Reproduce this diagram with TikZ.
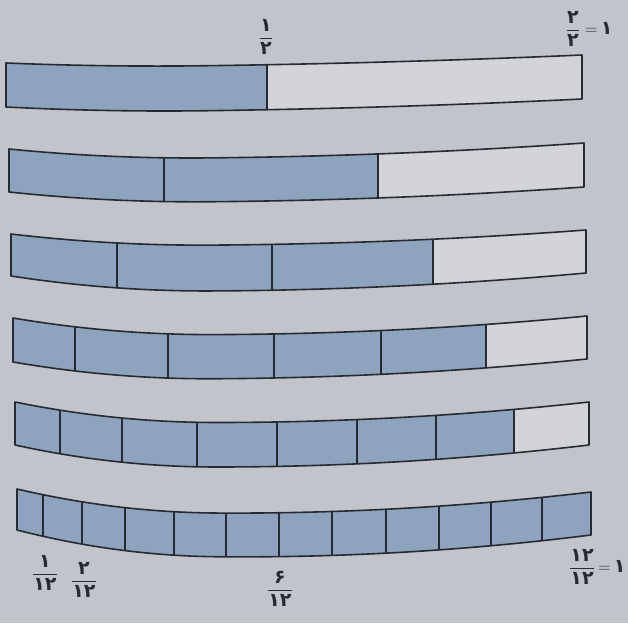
\documentclass[tikz,border=0pt]{standalone}
\usepackage{amsmath}
\usepackage{fontspec}
\newfontfamily\fa[Script=Arabic]{DejaVu Sans}
\definecolor{paper}{RGB}{194,196,204}
\definecolor{bluefill}{RGB}{142,163,190}
\definecolor{cellwhite}{RGB}{210,212,218}
\definecolor{inkline}{RGB}{40,42,50}
\tikzset{
  barline/.style={draw=inkline, line width=1.6pt, line join=round},
  divline/.style={draw=inkline, line width=1.4pt},
  lab/.style={text=inkline, inner sep=0pt, font=\fontsize{19pt}{19pt}\selectfont},
}
% #1 xL, #2 xR, #3 top-left y, #4 top-right y, #5 top sag, #6 bottom-left y, #7 bottom-right y, #8 bottom sag, #9 cells
\newcommand\mybar[9]{%
\begin{scope}[declare function={
   tt(\x)=(\x-#1)/(#2-#1);
   sh(\t)=1-((\t-0.35)/((\t<0.35)?0.35:0.65))*((\t-0.35)/((\t<0.35)?0.35:0.65));
   topy(\x)=#3+(#4-#3)*tt(\x)+#5*sh(tt(\x));
   boty(\x)=#6+(#7-#6)*tt(\x)+#8*sh(tt(\x));}]
  \foreach \ua/\ub/\uc in {#9}{
    \fill[\uc] plot[domain=\ua:\ub,samples=14] (\x,{topy(\x)}) -- plot[domain=\ub:\ua,samples=14] (\x,{boty(\x)}) -- cycle;
  }
  \foreach \ua/\ub/\uc in {#9}{
    \draw[divline] (\ub,{topy(\ub)}) -- (\ub,{boty(\ub)});
  }
  \draw[barline] plot[domain=#1:#2,samples=50] (\x,{topy(\x)}) -- plot[domain=#2:#1,samples=50] (\x,{boty(\x)}) -- cycle;
\end{scope}}
\newcommand\pfrac[2]{$\genfrac{}{}{1pt}{0}{\mbox{\fa\bfseries #1}}{\mbox{\fa\bfseries #2}}$}
\begin{document}
\begin{tikzpicture}[x=1pt,y=-1pt]
\fill[paper] (0,0) rectangle (628,623);
\useasboundingbox (0,0) rectangle (628,623);

\mybar{6}{582}{63}{55}{5.5}{107}{99}{6.5}{6/267/bluefill, 267/582/cellwhite}
\mybar{9}{584}{149}{143}{11}{192}{187}{11.5}{9/164/bluefill, 164/378/bluefill, 378/584/cellwhite}
\mybar{11}{586}{234}{230}{12.5}{276}{273}{16}{11/117/bluefill, 117/272/bluefill, 272/433/bluefill, 433/586/cellwhite}
\mybar{13}{587}{318}{316}{17.3}{362}{359}{17.8}{13/75/bluefill, 75/168/bluefill, 168/274/bluefill, 274/381/bluefill, 381/486/bluefill, 486/587/cellwhite}
\mybar{15}{589}{402}{402}{20.5}{445}{445}{22}{15/60/bluefill, 60/122/bluefill, 122/197/bluefill, 197/277/bluefill, 277/357/bluefill, 357/436/bluefill, 436/514/bluefill, 514/589/cellwhite}
\mybar{17}{591}{489}{492}{23}{530}{535}{25}{17/43/bluefill, 43/82/bluefill, 82/125/bluefill, 125/174/bluefill, 174/226/bluefill, 226/279/bluefill, 279/332/bluefill, 332/386/bluefill, 386/439/bluefill, 439/491/bluefill, 491/542/bluefill, 542/591/bluefill}

\node[lab] (half) at (266,37) {\pfrac{۱}{۲}};
\node[lab] (twohalves) at (573,29) {\pfrac{۲}{۲}};
\node[lab, anchor=west] (one1) at (585,28) {$=$\,{\fa\bfseries ۱}};
\node[lab] (onetw) at (45,573) {\pfrac{۱}{۱۲}};
\node[lab] (twotw) at (84,580) {\pfrac{۲}{۱۲}};
\node[lab] (sixtw) at (280,589) {\pfrac{۶}{۱۲}};
\node[lab] (twtw) at (582,567) {\pfrac{۱۲}{۱۲}};
\node[lab, anchor=west] (one2) at (598,566) {$=$\,{\fa\bfseries ۱}};
\end{tikzpicture}
\end{document}
